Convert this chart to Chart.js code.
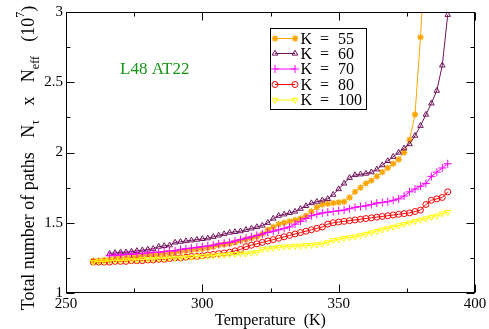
<!DOCTYPE html>
<html>
<head>
<meta charset="utf-8">
<script src="https://cdn.jsdelivr.net/npm/chart.js@4.4.1/dist/chart.umd.min.js"></script>
<style>
html,body{margin:0;padding:0;background:#fff;}
canvas{display:block;}
</style>
</head>
<body>
<canvas id="c" width="489" height="329"></canvas>
<script>
const temps = [260,262,264,266,268,270,272,274,276,278,280,282,284,286,288,290,292,294,296,298,300,302,304,306,308,310,312,314,316,318,320,322,324,326,328,330,332,334,336,338,340,342,344,346,348,350,352,354,356,358,360,362,364,366,368,370,372,374,376,378,380,382,384,386,388,390];

const k55 = [1.23,1.23,1.235,1.24,1.245,1.25,1.25,1.255,1.26,1.265,
1.27,1.27,1.275,1.28,1.285,1.29,1.295,1.30,1.305,1.31,
1.315,1.32,1.33,1.34,1.345,1.35,1.36,1.37,1.38,1.39,
1.40,1.42,1.45,1.47,1.49,1.50,1.51,1.52,1.53,1.55,
1.58,1.61,1.63,1.635,1.64,1.645,1.65,1.68,1.72,1.75,
1.78,1.80,1.83,1.86,1.89,1.92,1.95,2.00,2.09,2.27,
2.82,3.5,null,null,null,null];

const k60 = [null,null,null,1.28,1.285,1.29,1.29,1.295,1.30,1.305,
1.31,1.315,1.33,1.335,1.34,1.36,1.365,1.37,1.375,1.38,
1.385,1.39,1.40,1.41,1.42,1.43,1.435,1.44,1.45,1.46,
1.47,1.48,1.50,1.53,1.55,1.56,1.57,1.58,1.60,1.62,
1.64,1.65,1.66,1.67,1.70,1.74,1.78,1.82,1.84,1.845,
1.85,1.86,1.88,1.91,1.94,1.97,2.00,2.03,2.06,2.12,
2.19,2.27,2.35,2.44,2.62,2.98];

const k70 = [null,null,null,1.265,1.27,1.27,1.275,1.275,1.28,1.28,
1.285,1.29,1.29,1.295,1.30,1.30,1.31,1.315,1.32,1.325,
1.33,1.335,1.34,1.35,1.355,1.36,1.37,1.38,1.39,1.40,
1.41,1.42,1.43,1.44,1.45,1.46,1.47,1.49,1.51,1.53,
1.55,1.56,1.57,1.575,1.58,1.585,1.59,1.60,1.61,1.615,
1.62,1.63,1.64,1.645,1.65,1.66,1.67,1.69,1.72,1.74,
1.76,1.78,1.83,1.86,1.89,1.92];

const k80 = [1.22,1.22,1.22,1.22,1.225,1.225,1.225,1.23,1.23,1.23,
1.235,1.235,1.24,1.24,1.245,1.25,1.25,1.255,1.26,1.26,
1.265,1.27,1.275,1.28,1.285,1.29,1.30,1.31,1.33,1.34,
1.35,1.36,1.37,1.38,1.39,1.40,1.41,1.42,1.43,1.44,
1.45,1.46,1.47,1.49,1.50,1.505,1.51,1.515,1.52,1.525,
1.53,1.535,1.54,1.545,1.55,1.555,1.56,1.565,1.57,1.58,
1.59,1.63,1.66,1.67,1.68,1.72];

const k100 = [1.22,1.225,1.225,1.23,1.23,1.23,1.235,1.235,1.235,1.24,
1.24,1.24,1.245,1.245,1.25,1.25,1.25,1.255,1.255,1.26,
1.26,1.265,1.265,1.27,1.27,1.275,1.275,1.28,1.28,1.285,
1.29,1.31,1.315,1.32,1.325,1.33,1.33,1.335,1.335,1.34,
1.34,1.345,1.35,1.36,1.375,1.38,1.39,1.395,1.40,1.41,
1.42,1.43,1.44,1.45,1.46,1.47,1.48,1.49,1.50,1.51,
1.52,1.53,1.54,1.55,1.565,1.575];

const seriesNames = ["K  =  55","K  =  60","K  =  70","K  =  80","K  =  100"];
const xTicks = [250,300,350,400];
const xMinorTicks = [275,325,375];
const yTicks = [1,1.5,2,2.5,3];
const yTickLabels = ["1","1.5","2","2.5","3"];
const yMinorTicks = [1.25,1.75,2.25,2.75];
const xTitle = "Temperature  (K)";
const annotationText = "L48 AT22";

const SERIF = "'Liberation Serif','Times New Roman',serif";

const styles = [
  {color:'rgb(255,165,0)', pointStyle:'star', radius:3.2, rotation:0, bw:1.4},
  {color:'rgb(112,20,92)', pointStyle:'triangle', radius:3.2, rotation:0, bw:1},
  {color:'rgb(255,0,255)', pointStyle:'cross', radius:4, rotation:0, bw:1},
  {color:'rgb(255,0,0)', pointStyle:'circle', radius:3, rotation:0, bw:1},
  {color:'rgb(255,255,0)', pointStyle:'triangle', radius:3.4, rotation:180, bw:1}
];
const seriesData = [k55,k60,k70,k80,k100];

function mk(i){
  const s = styles[i];
  return {
    label: seriesNames[i],
    data: temps.map((t,j)=>({x:t, y:seriesData[i][j]})),
    borderColor: s.color,
    backgroundColor: 'rgba(0,0,0,0)',
    borderWidth: 1,
    pointStyle: s.pointStyle,
    pointRadius: s.radius,
    pointRotation: s.rotation,
    pointBorderWidth: s.bw,
    pointBorderColor: s.color,
    pointBackgroundColor: 'rgba(0,0,0,0)',
    tension: 0,
    spanGaps: false
  };
}
// later series on top (dataset 0 is drawn last in Chart.js)
const datasets = [mk(4),mk(3),mk(2),mk(1),mk(0)];

function drawMarker(ctx, s, x, y){
  ctx.save();
  ctx.strokeStyle = s.color;
  ctx.fillStyle = 'rgba(0,0,0,0)';
  ctx.lineWidth = s.bw;
  if (Chart.helpers && Chart.helpers.drawPoint) {
    Chart.helpers.drawPoint(ctx, {pointStyle:s.pointStyle, radius:s.radius, rotation:s.rotation, borderWidth:s.bw}, x, y);
  }
  ctx.restore();
}

const decor = {
  id:'decor',
  afterDraw(chart){
    const ctx = chart.ctx;
    const a = chart.chartArea;
    const xs = chart.scales.x, ys = chart.scales.y;
    ctx.save();
    ctx.strokeStyle = '#000';
    ctx.lineWidth = 1;
    const L = Math.round(a.left)+0.5, R = Math.round(a.right)-0.5, T = Math.round(a.top)+0.5, B = Math.round(a.bottom)-0.5;
    ctx.strokeRect(L, T, R-L, B-T);
    ctx.beginPath();
    const tick = (v, len, horiz) => {
      if (horiz) {
        const px = Math.round(xs.getPixelForValue(v))+0.5;
        ctx.moveTo(px, B); ctx.lineTo(px, B-len);
        ctx.moveTo(px, T); ctx.lineTo(px, T+len);
      } else {
        const py = Math.round(ys.getPixelForValue(v))+0.5;
        ctx.moveTo(L, py); ctx.lineTo(L+len, py);
        ctx.moveTo(R, py); ctx.lineTo(R-len, py);
      }
    };
    xTicks.forEach(v=>tick(v,8,true));
    xMinorTicks.forEach(v=>tick(v,4,true));
    yTicks.forEach(v=>tick(v,8,false));
    yMinorTicks.forEach(v=>tick(v,4,false));
    ctx.stroke();

    // annotation
    ctx.fillStyle = 'rgb(20,150,20)';
    ctx.font = '17px ' + SERIF;
    ctx.textAlign = 'left';
    ctx.textBaseline = 'alphabetic';
    ctx.fillText(annotationText, 120, 73.5);

    // legend box
    const bx = 270.5, by = 28.5, bw = 96, bh = 81;
    ctx.fillStyle = '#fff';
    ctx.fillRect(bx, by, bw, bh);
    ctx.strokeStyle = '#000';
    ctx.lineWidth = 1;
    ctx.strokeRect(bx, by, bw, bh);
    const rows = [38.5, 53.5, 69, 84.5, 100];
    ctx.font = '16px ' + SERIF;
    ctx.textBaseline = 'middle';
    seriesNames.forEach((n,i)=>{
      const s = styles[i];
      const y = rows[i];
      ctx.strokeStyle = s.color;
      ctx.lineWidth = 1;
      ctx.beginPath(); ctx.moveTo(275, y); ctx.lineTo(295, y); ctx.stroke();
      drawMarker(ctx, s, 275, y);
      drawMarker(ctx, s, 295, y);
      ctx.fillStyle = '#000';
      const parts = n.split(/\s+/);
      ctx.textAlign = 'left';
      ctx.fillText(parts[0], 300.5, y+1);
      ctx.fillText(parts[1], 320, y+1);
      ctx.fillText(parts[2], 338, y+1);
    });

    // x title
    ctx.fillStyle = '#000';
    ctx.font = '16px ' + SERIF;
    ctx.textAlign = 'center';
    ctx.textBaseline = 'alphabetic';
    ctx.fillText(xTitle, (a.left+a.right)/2, 325);

    // y title with sub/superscripts
    const fs = 18, fsSmall = 12;
    const big = fs + 'px ' + SERIF, small = fsSmall + 'px ' + SERIF;
    const pieces = [
      {t:'Total number of paths', f:big, dy:0},
      {gap:1.6},
      {t:'N', f:big, dy:0},
      {t:'\u03C4', f:small, dy:5},
      {gap:1.6},
      {t:'x', f:big, dy:0},
      {gap:1.6},
      {t:'N', f:big, dy:0},
      {t:'eff', f:small, dy:5},
      {gap:1.6},
      {t:'(10', f:big, dy:0},
      {t:'7', f:small, dy:-10},
      {t:')', f:big, dy:0}
    ];
    ctx.font = big;
    const sp = ctx.measureText(' ').width;
    let total = 0;
    pieces.forEach(p=>{
      if (p.gap) { total += sp*p.gap*2; return; }
      ctx.font = p.f; p.w = ctx.measureText(p.t).width; total += p.w;
    });
    const cy = 158, bxl = 34;
    ctx.translate(bxl, cy + total/2);
    ctx.rotate(-Math.PI/2);
    ctx.textAlign = 'left';
    let pos = 0;
    pieces.forEach(p=>{
      if (p.gap) { pos += sp*p.gap*2; return; }
      ctx.font = p.f;
      ctx.fillText(p.t, pos, p.dy);
      pos += p.w;
    });
    ctx.restore();
  }
};

new Chart(document.getElementById('c'), {
  type:'line',
  data:{datasets},
  options:{
    responsive:false,
    animation:false,
    layout:{padding:{top:7, right:14, left:0, bottom:0}},
    plugins:{legend:{display:false}, tooltip:{enabled:false}, title:{display:false}},
    scales:{
      x:{
        type:'linear', min:250, max:400,
        afterBuildTicks: s => { s.ticks = xTicks.map(v=>({value:v})); },
        ticks:{font:{family:SERIF, size:15}, color:'#000', padding:2, maxRotation:0, autoSkip:false},
        grid:{display:false, drawTicks:false},
        border:{display:false},
        afterFit: s => { s.height = 36; }
      },
      y:{
        type:'linear', min:1, max:3,
        afterBuildTicks: s => { s.ticks = yTicks.map(v=>({value:v})); },
        ticks:{font:{family:SERIF, size:15}, color:'#000', padding:3,
          callback: (v) => { const i = yTicks.indexOf(v); return i>=0 ? yTickLabels[i] : ''; }},
        grid:{display:false, drawTicks:false},
        border:{display:false},
        afterFit: s => { s.width = 66; }
      }
    }
  },
  plugins:[decor]
});
</script>
</body>
</html>
